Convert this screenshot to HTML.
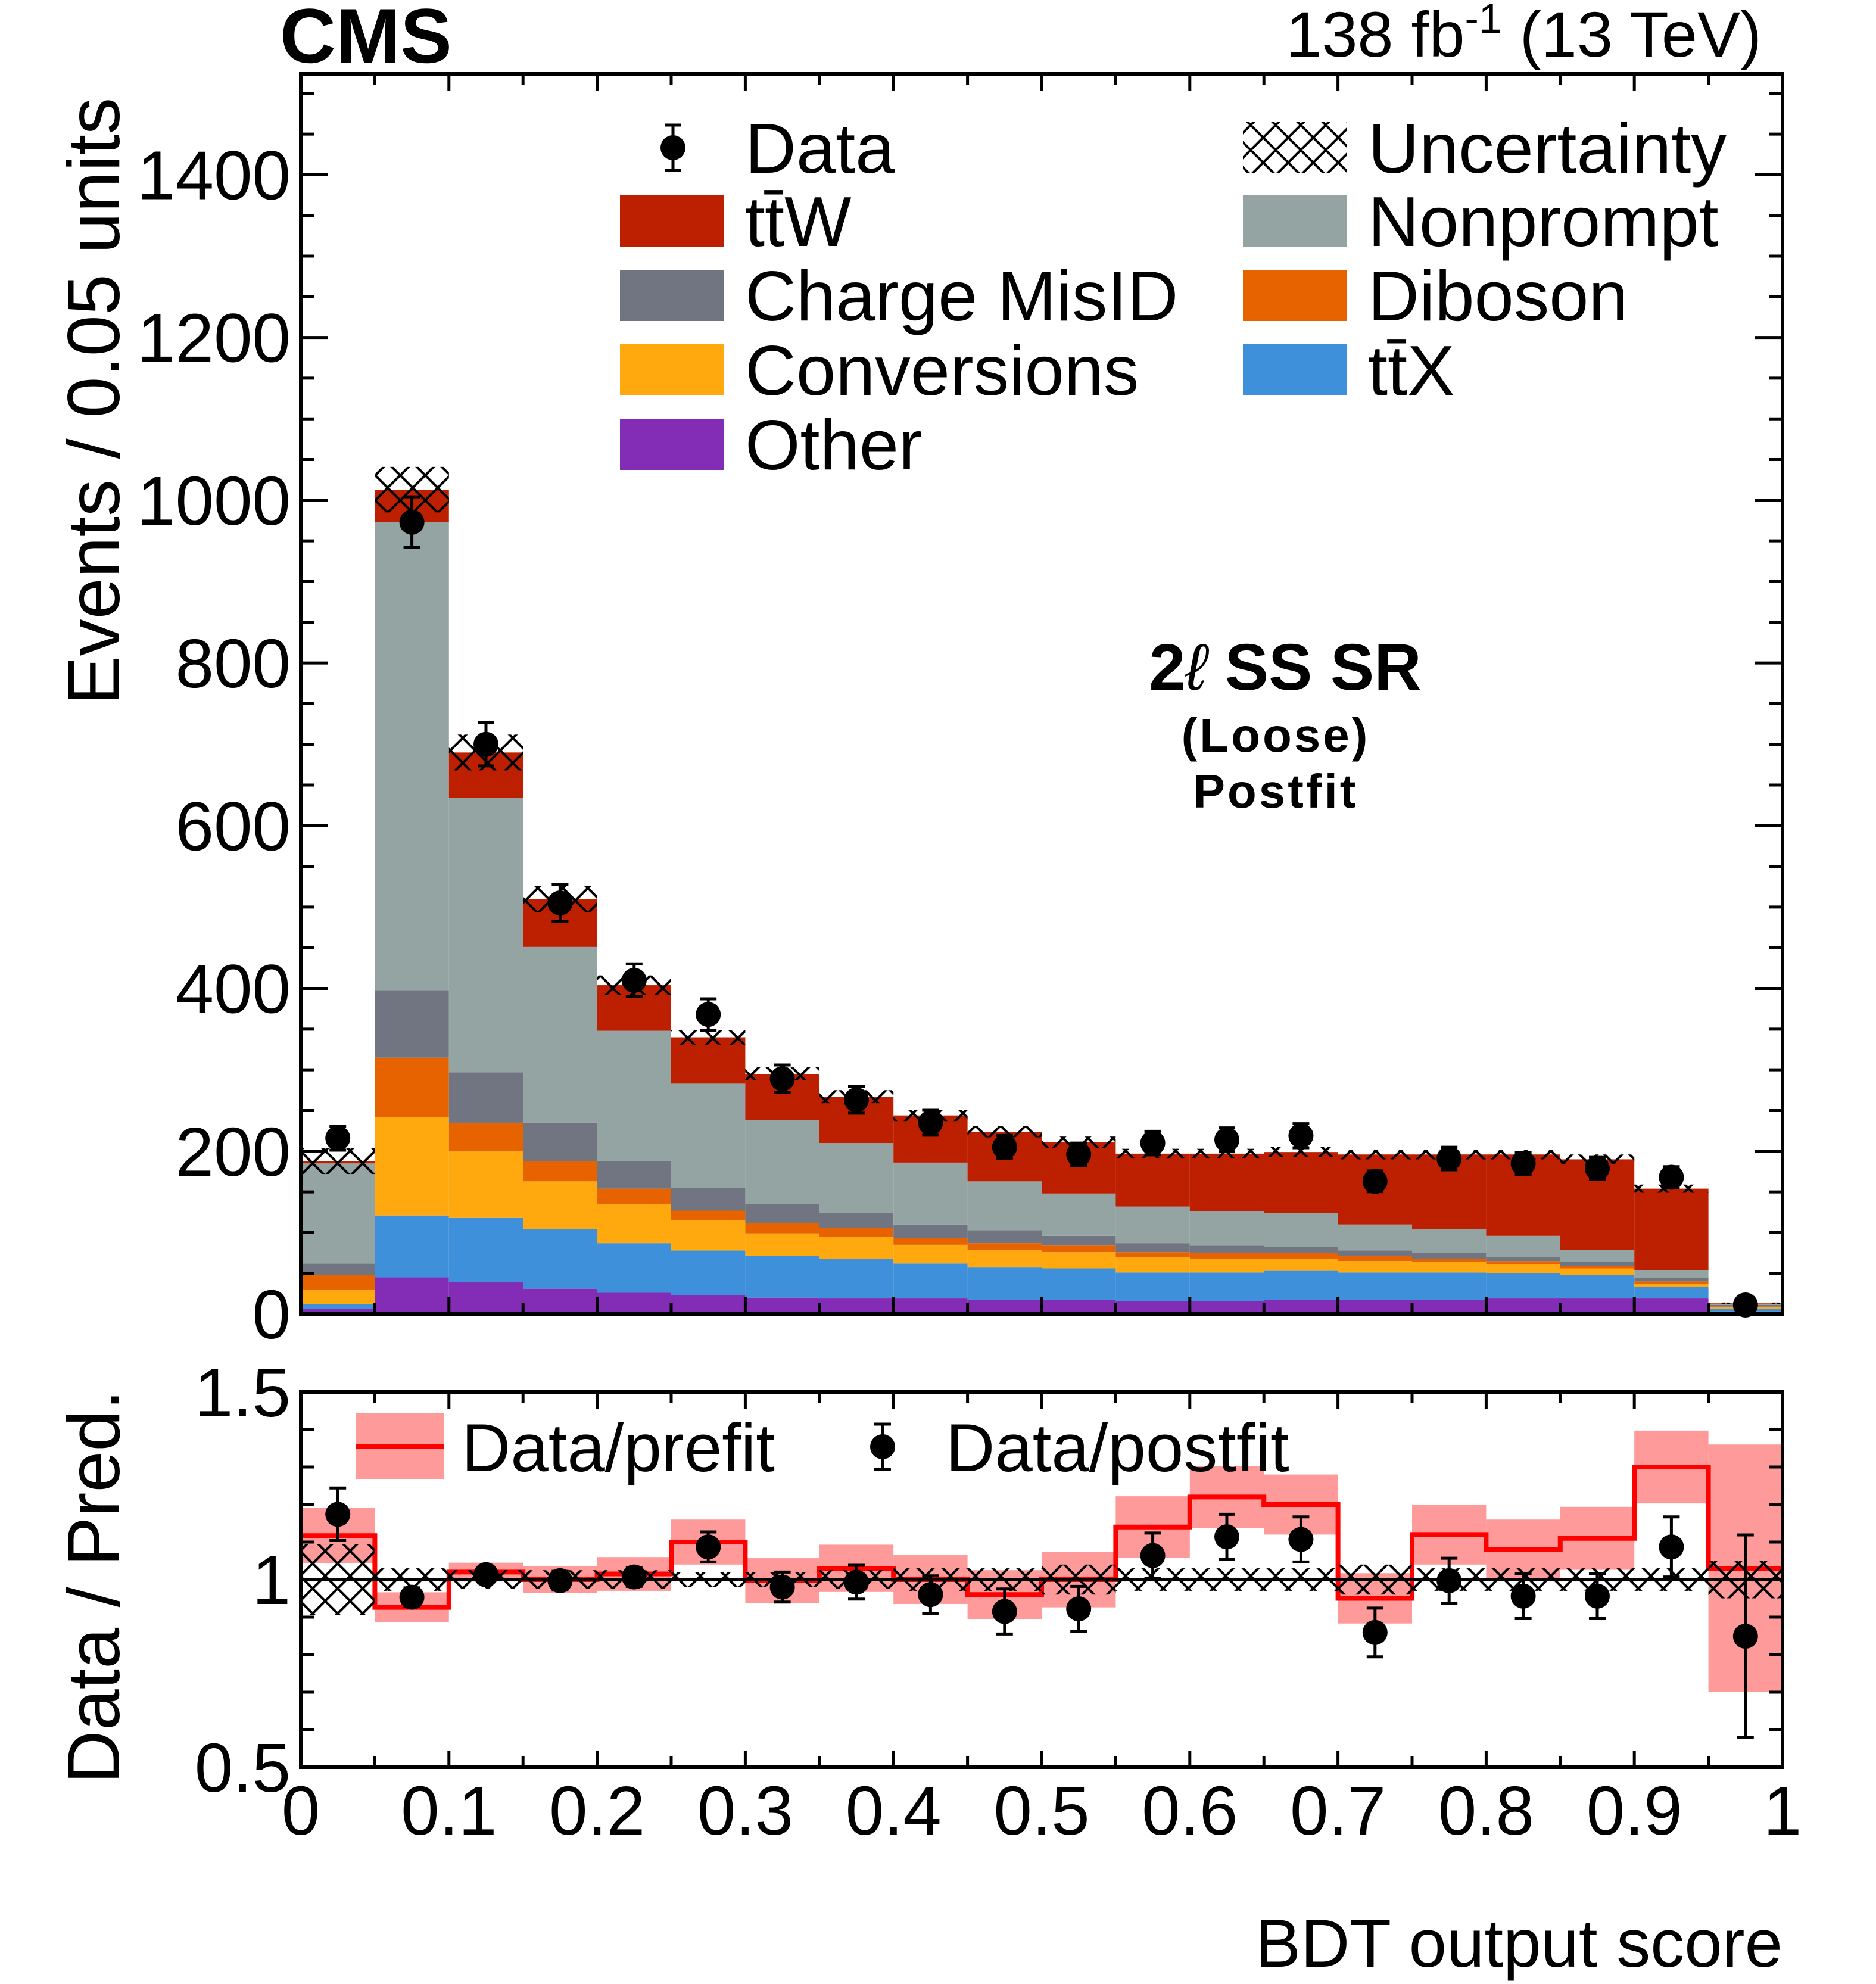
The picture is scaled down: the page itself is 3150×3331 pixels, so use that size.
<!DOCTYPE html>
<html><head><meta charset="utf-8">
<style>
html,body{margin:0;padding:0;background:#fff;}
svg{display:block;font-family:"Liberation Sans",Arial,sans-serif;}
</style></head>
<body>
<svg id="chart" width="3150" height="3331" viewBox="0 0 3150 3331" xmlns="http://www.w3.org/2000/svg">
<defs>
<pattern id="hatch" patternUnits="userSpaceOnUse" width="42" height="42">
<path d="M0,0 L42,42 M42,0 L0,42" stroke="#000" stroke-width="4" fill="none"/>
</pattern>
</defs>
<g id="main"></g>
<g id="ratio"></g>
<g id="axes"></g>
<text x="470" y="105" font-size="130" font-weight="bold">CMS</text>
<text x="2958" y="95" font-size="108" text-anchor="end">138 fb<tspan dy="-40" font-size="70">-1</tspan><tspan dy="40"> (13 TeV)</tspan></text>
<text x="2158" y="1158" font-size="110" font-weight="bold" text-anchor="middle">2<tspan font-style="italic" font-weight="normal">ℓ</tspan> SS SR</text>
<text x="2142" y="1262" font-size="80" font-weight="bold" text-anchor="middle" letter-spacing="4">(Loose)</text>
<text x="2142" y="1356" font-size="80" font-weight="bold" text-anchor="middle" letter-spacing="4">Postfit</text>
<text transform="translate(200,674) rotate(-90)" font-size="124" text-anchor="middle">Events / 0.05 units</text>
<text transform="translate(200,2664) rotate(-90)" font-size="124" text-anchor="middle">Data / Pred.</text>
<text x="2993" y="3302" font-size="114" text-anchor="end">BDT output score</text>
<g id="legend"></g>
</svg>
<script>
const categories = ["0-0.05","0.05-0.1","0.1-0.15","0.15-0.2","0.2-0.25","0.25-0.3","0.3-0.35","0.35-0.4","0.4-0.45","0.45-0.5","0.5-0.55","0.55-0.6","0.6-0.65","0.65-0.7","0.7-0.75","0.75-0.8","0.8-0.85","0.85-0.9","0.9-0.95","0.95-1"];
const other      = [6,45,39,31,26,23,20,19,19,17,17,16,16,17,17,17,19,19,19,3];
const ttX        = [6,76,79,73,61,55,51,49,43,40,39,35,35,36,34,34,31,29,14,3];
const conversions= [18,121,82,59,48,37,28,27,23,22,20,19,17,15,14,13,11,8,4,2];
const diboson    = [18,73,35,25,19,12,13,11,8,8,8,6,7,7,6,4,4,3,3,1];
const chargeMisID= [14,83,62,47,34,28,23,18,17,16,12,11,9,7,7,7,5,5,4,2];
const nonprompt  = [123,575,337,216,160,128,103,86,76,60,52,45,42,42,32,29,26,15,10,1];
const ttW        = [3,40,56,59,56,57,57,57,58,61,63,65,71,75,86,92,100,111,100,1];
const dataCounts = [216,973,700,505,410,368,289,263,235,205,196,210,214,219,163,191,185,179,168,11];
const totalUnc   = [16,28,22,16,12,9,8,8,7,7,7,6,6,6,6,6,6,6,5,1];
const prefitRatio= [1.117,0.926,1.02,1.0,1.015,1.10,0.997,1.03,1.0,0.96,1.0,1.14,1.22,1.20,0.95,1.12,1.08,1.11,1.30,1.03];
const prefitUnc  = [0.074,0.04,0.025,0.035,0.045,0.06,0.06,0.063,0.065,0.065,0.074,0.082,0.082,0.08,0.067,0.08,0.08,0.084,0.097,0.33];
const postfitRatio=[1.174,0.953,1.013,0.997,1.007,1.087,0.98,0.993,0.96,0.915,0.922,1.064,1.114,1.107,0.859,0.997,0.956,0.956,1.087,0.849];
const postfitErr = [0.07,0.025,0.02,0.025,0.025,0.04,0.04,0.045,0.05,0.06,0.06,0.06,0.06,0.06,0.065,0.06,0.06,0.06,0.08,0.27];
const postfitUnc = [0.095,0.03,0.025,0.025,0.025,0.02,0.02,0.025,0.03,0.03,0.04,0.03,0.03,0.03,0.04,0.03,0.03,0.03,0.03,0.05];
const yTicks = ["0","200","400","600","800","1000","1200","1400"];
const rTicks = ["0.5","1","1.5"];
const xTicks = ["0","0.1","0.2","0.3","0.4","0.5","0.6","0.7","0.8","0.9","1"];

const NS="http://www.w3.org/2000/svg";
const L=505,R=2993,MT=124,MB=2206,RT=2337,RB=2967,YMAX=1524;
const xs=v=>L+(R-L)*v;
const ys=v=>MB-(MB-MT)*v/YMAX;
const rs=v=>RB-(RB-RT)*(v-0.5)/1.0;
function el(tag,attrs,parent){const e=document.createElementNS(NS,tag);for(const k in attrs)e.setAttribute(k,attrs[k]);parent.appendChild(e);return e;}
const main=document.getElementById('main'),ratio=document.getElementById('ratio'),axes=document.getElementById('axes'),legend=document.getElementById('legend');
const n=categories.length,bw=1/n;
const comps=[["other",other,"#832db6"],["ttx",ttX,"#3f90da"],["conversions",conversions,"#ffa90e"],["diboson",diboson,"#e76300"],["charge-misid",chargeMisID,"#717581"],["nonprompt",nonprompt,"#94a4a2"],["ttw",ttW,"#bd1f01"]];
const totals=[];
for(let i=0;i<n;i++){let c=0;const x0=xs(i*bw),x1=xs((i+1)*bw);
 for(const [nm,arr,col] of comps){const r=el('rect',{x:x0,y:ys(c+arr[i]),width:x1-x0,height:ys(c)-ys(c+arr[i]),fill:col},main);
  
  
  c+=arr[i];}
 totals.push(c);}
for(let i=0;i<n;i++){const x0=xs(i*bw),x1=xs((i+1)*bw);
 const h=el('rect',{x:x0,y:ys(totals[i]+totalUnc[i]),width:x1-x0,height:ys(totals[i]-totalUnc[i])-ys(totals[i]+totalUnc[i]),fill:"url(#hatch)"},main);
 
 }
function point(parent,cx,cy,ylo,yhi,name){const g=el('g',{},parent);
 
 
 el('line',{x1:cx,x2:cx,y1:ylo,y2:yhi,stroke:"#000","stroke-width":5},g);
 el('line',{x1:cx-14,x2:cx+14,y1:ylo,y2:ylo,stroke:"#000","stroke-width":5},g);
 el('line',{x1:cx-14,x2:cx+14,y1:yhi,y2:yhi,stroke:"#000","stroke-width":5},g);
 el('circle',{cx:cx,cy:cy,r:21,fill:"#000"},g);}
for(let i=0;i<n;i++){const cx=xs((i+0.5)*bw),e=Math.sqrt(dataCounts[i]);
 point(main,cx,ys(dataCounts[i]),ys(dataCounts[i]-e),ys(dataCounts[i]+e),'data-point-'+i);}
for(let i=0;i<n;i++){const x0=xs(i*bw),x1=xs((i+1)*bw);
 const b=el('rect',{x:x0,y:rs(prefitRatio[i]+prefitUnc[i]),width:x1-x0,height:rs(prefitRatio[i]-prefitUnc[i])-rs(prefitRatio[i]+prefitUnc[i]),fill:"#fe9a9a"},ratio);
 
 }
let d="";
for(let i=0;i<n;i++){const y=rs(prefitRatio[i]);d+=(i?"L":"M")+xs(i*bw)+","+y+"L"+xs((i+1)*bw)+","+y;}
const pl=el('path',{d:d,fill:"none",stroke:"#ff0000","stroke-width":8},ratio);


for(let i=0;i<n;i++){const x0=xs(i*bw),x1=xs((i+1)*bw);
 const h=el('rect',{x:x0,y:rs(1+postfitUnc[i]),width:x1-x0,height:rs(1-postfitUnc[i])-rs(1+postfitUnc[i]),fill:"url(#hatch)"},ratio);
 
 }
const ul=el('line',{x1:L,x2:R,y1:rs(1),y2:rs(1),stroke:"#000","stroke-width":4},ratio);


for(let i=0;i<n;i++){const cx=xs((i+0.5)*bw);
 point(ratio,cx,rs(postfitRatio[i]),rs(postfitRatio[i]-postfitErr[i]),rs(postfitRatio[i]+postfitErr[i]),'ratio-point-'+i);}
for(const [t,b,nm] of [[MT,MB,'main-frame'],[RT,RB,'ratio-frame']]){
 const f=el('rect',{x:L,y:t,width:R-L,height:b-t,fill:"none",stroke:"#000","stroke-width":6},axes);
 
 }
function tick(x1,y1,x2,y2){el('line',{x1,y1,x2,y2,stroke:"#000","stroke-width":5},axes);}
for(let v=0;v<=1500;v+=50){const y=ys(v),len=(v%200===0)?46:23;tick(L,y,L+len,y);tick(R,y,R-len,y);}
yTicks.forEach(t=>{const tx=el('text',{x:488,y:ys(+t)+41,"font-size":116,"text-anchor":"end"},axes);tx.textContent=t;
 
 });
for(let k=5;k<=15;k++){const v=k/10,y=rs(v),len=(k%5===0)?46:23;tick(L,y,L+len,y);tick(R,y,R-len,y);}
rTicks.forEach(t=>{const tx=el('text',{x:488,y:rs(+t)+41,"font-size":116,"text-anchor":"end"},axes);tx.textContent=t;
 
 });
for(let k=0;k<=20;k++){const x=xs(k/20),len=(k%2===0)?28:18;tick(x,MB,x,MB-len);tick(x,MT,x,MT+len);tick(x,RB,x,RB-len);tick(x,RT,x,RT+len);}
xTicks.forEach(t=>{const tx=el('text',{x:xs(+t),y:3080,"font-size":116,"text-anchor":"middle"},axes);tx.textContent=t;
 
 });
const legEntries=[["ttW","tt\u0304W","#bd1f01",1041,1],["charge-misid","Charge MisID","#717581",1041,2],["conversions","Conversions","#ffa90e",1041,3],["other","Other","#832db6",1041,4],
 ["nonprompt","Nonprompt","#94a4a2",2087,1],["diboson","Diboson","#e76300",2087,2],["ttx","tt\u0304X","#3f90da",2087,3]];
const rowY=[248,371,496,621,746];
legEntries.forEach(([nm,lab,col,x,r])=>{const g=el('g',{},legend);
 
 
 el('rect',{x:x,y:rowY[r]-43,width:175,height:86,fill:col},g);
 const t=el('text',{x:x+210,y:rowY[r]+42,"font-size":119},g);t.textContent=lab;});
{const g=el('g',{},legend);
 
 
 el('line',{x1:1130,x2:1130,y1:rowY[0]-38,y2:rowY[0]+38,stroke:"#000","stroke-width":5},g);
 el('line',{x1:1116,x2:1144,y1:rowY[0]-38,y2:rowY[0]-38,stroke:"#000","stroke-width":5},g);
 el('line',{x1:1116,x2:1144,y1:rowY[0]+38,y2:rowY[0]+38,stroke:"#000","stroke-width":5},g);
 el('circle',{cx:1130,cy:rowY[0],r:21,fill:"#000"},g);
 const t=el('text',{x:1251,y:rowY[0]+42,"font-size":119},g);t.textContent="Data";}
{const g=el('g',{},legend);
 
 
 el('rect',{x:2087,y:rowY[0]-43,width:175,height:86,fill:"url(#hatch)"},g);
 const t=el('text',{x:2297,y:rowY[0]+42,"font-size":119},g);t.textContent="Uncertainty";}
{const g=el('g',{},legend);
 
 
 el('rect',{x:598,y:2373,width:148,height:110,fill:"#fe9a9a"},g);
 el('line',{x1:598,x2:746,y1:2429,y2:2429,stroke:"#ff0000","stroke-width":8},g);
 const t=el('text',{x:775,y:2470,"font-size":114},g);t.textContent="Data/prefit";}
{const g=el('g',{},legend);
 
 
 el('line',{x1:1482,x2:1482,y1:2391,y2:2467,stroke:"#000","stroke-width":5},g);
 el('line',{x1:1468,x2:1496,y1:2391,y2:2391,stroke:"#000","stroke-width":5},g);
 el('line',{x1:1468,x2:1496,y1:2467,y2:2467,stroke:"#000","stroke-width":5},g);
 el('circle',{cx:1482,cy:2429,r:21,fill:"#000"},g);
 const t=el('text',{x:1588,y:2470,"font-size":114},g);t.textContent="Data/postfit";}
</script>
</body></html>
